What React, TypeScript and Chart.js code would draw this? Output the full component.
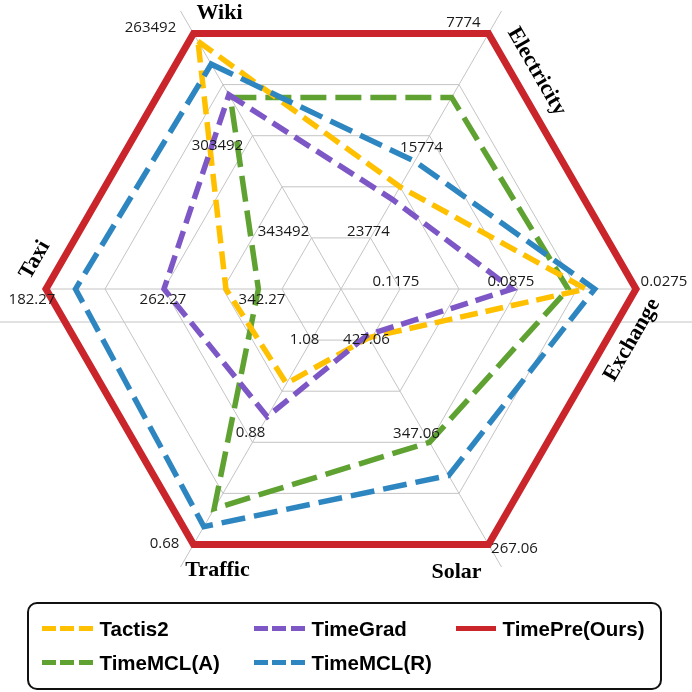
import { useEffect, useRef } from "react";
import { Chart, registerables } from "chart.js";

Chart.register(...registerables);

// axes, clockwise from the upper-left vertex
const axes = ["Wiki", "Electricity", "Exchange", "Solar", "Traffic", "Taxi"];

// normalised scores (0 = centre, 1 = outer ring)
const tactis2 = [0.97, 0.4, 0.83, 0.19, 0.37, 0.39];
const timeGrad = [0.76, 0.35, 0.58, 0.18, 0.5, 0.6];
const timePre = [1, 1, 1, 1, 1, 1];
const timeMclA = [0.75, 0.75, 0.77, 0.6, 0.86, 0.28];
const timeMclR = [0.88, 0.5, 0.86, 0.73, 0.93, 0.9];

const seriesNames = ["Tactis2", "TimeGrad", "TimePre(Ours)", "TimeMCL(A)", "TimeMCL(R)"];

// per-axis tick labels at rings 0.2, 0.6 and 1.0
const tickRings = [0.2, 0.6, 1.0];
const wikiTicks = ["343492", "303492", "263492"];
const electricityTicks = ["23774", "15774", "7774"];
const exchangeTicks = ["0.1175", "0.0875", "0.0275"];
const solarTicks = ["427.06", "347.06", "267.06"];
const trafficTicks = ["1.08", "0.88", "0.68"];
const taxiTicks = ["342.27", "262.27", "182.27"];

const tickLabels = [wikiTicks, electricityTicks, exchangeTicks, solarTicks, trafficTicks, taxiTicks];

const colors = {
  yellow: "#ffc000",
  purple: "#7e57c6",
  red: "#c9252b",
  green: "#5fa232",
  blue: "#2e86c1",
  grid: "#c4c4c4",
};

// text placement relative to the ring vertices (styling only)
const tickOffsets = [
  [[-28, -6], [-35, 10], [-43, -6]],
  [[-2, -6], [-8, 12], [-25, -11]],
  [[-4, -7], [-7, -7], [28, -7]],
  [[-4, 0], [-13, -9], [26, 4]],
  [[-7, 0], [-2, -10], [-29, -1]],
  [[-20, 11], [-1, 11], [-14, 11]],
];
const titleStyle = [
  { dx: 26, dy: -20, rot: 0 },
  { dx: 48, dy: 38, rot: 60 },
  { dx: -4, dy: 51, rot: -60 },
  { dx: -32, dy: 28, rot: 0 },
  { dx: 24, dy: 26, rot: 0 },
  { dx: -11, dy: -29, rot: -60 },
];

const axisText = {
  id: "axisText",
  beforeDatasetsDraw(chart: Chart) {
    const scale: any = chart.scales.r;
    const ctx = chart.ctx;
    ctx.save();
    ctx.strokeStyle = colors.grid;
    ctx.lineWidth = 1;
    // the stray horizontal grid line and the spoke tails past the outer ring
    ctx.beginPath();
    ctx.moveTo(0, scale.yCenter + 33);
    ctx.lineTo(chart.width, scale.yCenter + 33);
    [0, 1, 3, 4].forEach((i) => {
      const a = scale.getPointPosition(i, scale.drawingArea);
      const b = scale.getPointPosition(i, scale.drawingArea + 26);
      ctx.moveTo(a.x, a.y);
      ctx.lineTo(b.x, b.y);
    });
    ctx.stroke();
    ctx.restore();
  },
  afterDatasetsDraw(chart: Chart) {
    const scale: any = chart.scales.r;
    const ctx = chart.ctx;
    ctx.save();
    ctx.textAlign = "center";
    ctx.textBaseline = "middle";
    ctx.fillStyle = "#1a1a1a";
    ctx.font = '15px "Open Sans", sans-serif';
    axes.forEach((_, i) => {
      tickRings.forEach((ring, j) => {
        const p = scale.getPointPosition(i, scale.getDistanceFromCenterForValue(ring));
        const [dx, dy] = tickOffsets[i][j];
        ctx.fillText(tickLabels[i][j], p.x + dx, p.y + dy);
      });
    });
    ctx.fillStyle = "#000";
    ctx.font = 'bold 22px "Liberation Serif", "Times New Roman", serif';
    axes.forEach((name, i) => {
      const p = scale.getPointPosition(i, scale.getDistanceFromCenterForValue(1));
      const s = titleStyle[i];
      ctx.save();
      ctx.translate(p.x + s.dx, p.y + s.dy);
      ctx.rotate((s.rot * Math.PI) / 180);
      ctx.fillText(name, 0, 0);
      ctx.restore();
    });
    ctx.restore();
  },
};

const legendItems = [
  { name: seriesNames[0], color: colors.yellow, dashed: true, left: 42, row: 0 },
  { name: seriesNames[1], color: colors.purple, dashed: true, left: 254, row: 0 },
  { name: seriesNames[2], color: colors.red, dashed: false, left: 456, row: 0 },
  { name: seriesNames[3], color: colors.green, dashed: true, left: 42, row: 1 },
  { name: seriesNames[4], color: colors.blue, dashed: true, left: 254, row: 1 },
];

const App = () => {
  const canvasRef = useRef<HTMLCanvasElement | null>(null);

  useEffect(() => {
    let chart: Chart | null = null;
    if (canvasRef.current) {
      const ctx = canvasRef.current.getContext("2d");
      if (ctx) {
        const line = (label: string, data: number[], color: string, dash: number[], width: number, order: number) => ({
          label: label,
          data: data,
          borderColor: color,
          backgroundColor: "rgba(0,0,0,0)",
          borderWidth: width,
          borderDash: dash,
          borderCapStyle: "butt" as const,
          borderJoinStyle: "miter" as const,
          fill: false,
          pointRadius: 0,
          pointHoverRadius: 0,
          tension: 0,
          order: order,
        });
        chart = new Chart(ctx, {
          type: "radar",
          data: {
            labels: axes,
            datasets: [
              line(seriesNames[0], tactis2, colors.yellow, [18, 8], 5.5, 2),
              line(seriesNames[1], timeGrad, colors.purple, [18, 8], 5.5, 1),
              line(seriesNames[2], timePre, colors.red, [], 7, 4),
              line(seriesNames[3], timeMclA, colors.green, [26, 9], 5.5, 3),
              line(seriesNames[4], timeMclR, colors.blue, [24, 9], 5.5, 0),
            ],
          },
          options: {
            responsive: true,
            maintainAspectRatio: false,
            animation: false,
            layout: { padding: { left: 46, right: 56, top: 4, bottom: 26 } },
            plugins: {
              legend: { display: false },
              tooltip: { enabled: false },
            },
            scales: {
              r: {
                min: 0,
                max: 1,
                startAngle: -30,
                ticks: { display: false, stepSize: 0.2 },
                pointLabels: { display: false },
                grid: { color: colors.grid, lineWidth: 1 },
                angleLines: { color: colors.grid, lineWidth: 1 },
              },
            },
          },
          plugins: [axisText],
        });
      }
    }
    return () => {
      if (chart) {
        chart.destroy();
      }
    };
  }, []);

  return (
    <div style={{ position: "absolute", left: 0, top: 0, width: 692, height: 692, background: "#fff", overflow: "hidden" }}>
      <div style={{ position: "absolute", left: 0, top: -10, width: 692, height: 620 }}>
        <canvas ref={canvasRef}></canvas>
      </div>
      <div
        style={{
          position: "absolute",
          left: 27,
          top: 602,
          width: 635,
          height: 88,
          boxSizing: "border-box",
          border: "2.5px solid #111",
          borderRadius: 10,
        }}
      >
        {legendItems.map((it) => (
          <div
            key={it.name}
            style={{
              position: "absolute",
              left: it.left - 29.5,
              top: it.row === 0 ? 24.5 : 58.5,
              transform: "translateY(-50%)",
              display: "flex",
              alignItems: "center",
              whiteSpace: "nowrap",
            }}
          >
            <div
              style={{
                width: it.dashed ? 51 : 40,
                height: 5,
                marginRight: 7,
                background: it.dashed
                  ? `repeating-linear-gradient(to right, ${it.color} 0px, ${it.color} 14px, transparent 14px, transparent 18.5px)`
                  : it.color,
              }}
            />
            <span style={{ font: '700 20.5px "Liberation Sans", Arial, sans-serif', color: "#000" }}>{it.name}</span>
          </div>
        ))}
      </div>
    </div>
  );
};

export default App;
